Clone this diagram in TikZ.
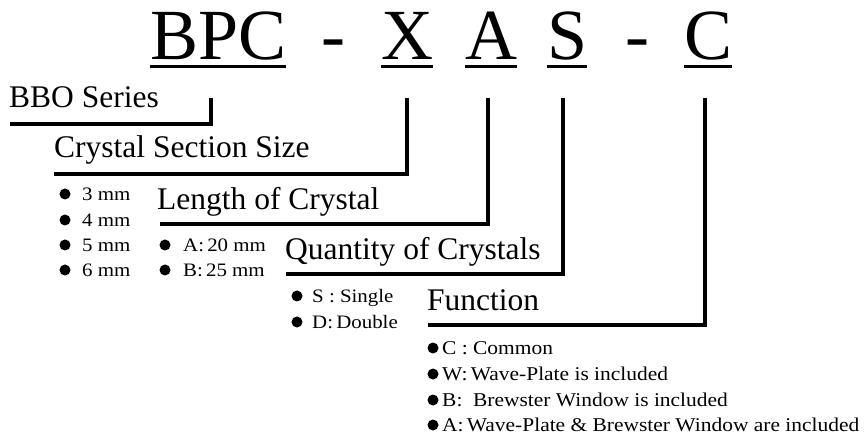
\documentclass[tikz,border=0pt]{standalone}
\usepackage{fontspec}
\setmainfont{Liberation Serif}
\newfontfamily\smallfont[FakeStretch=1.1]{Liberation Serif}
\begin{document}
\begin{tikzpicture}[x=1pt,y=-1pt,
  title/.style={anchor=base west,inner sep=0pt,font=\fontsize{72}{72}\selectfont},
  label/.style={anchor=base west,inner sep=0pt,font=\fontsize{31.5}{32}\selectfont},
  item/.style={anchor=base west,inner sep=0pt,font=\smallfont\fontsize{19}{20}\selectfont},
  fitem/.style={anchor=base west,inner sep=0pt,font=\smallfont\fontsize{19.5}{20}\selectfont},
  conn/.style={line width=3.5pt,line join=miter},
  uline/.style={line width=3pt},
  dot/.style={circle,fill=black,inner sep=0pt,minimum size=11pt}]
\useasboundingbox (0,0) rectangle (864,435);
% title
\node[title] (bpc) at (150,60) {BPC};
\node[title] (d1) at (321,60) {-};
\node[title] (x) at (381,60) {X};
\node[title] (a) at (465,60) {A};
\node[title] (s) at (547,60) {S};
\node[title] (d2) at (625,60) {-};
\node[title] (c) at (684,60) {C};
\foreach \n in {bpc,x,a,s,c}
  \draw[uline] ([yshift=-7pt]\n.base west) -- ([yshift=-7pt]\n.base east);
% labels
\node[label] (bbo) at (9,108) {BBO Series};
\node[label] (css) at (54,158) {Crystal Section Size};
\node[label] (len) at (157,210) {Length of Crystal};
\node[label] (qty) at (285,260) {Quantity of Crystals};
\node[label] (fun) at (427,311) {Function};
% connectors
\coordinate (t1) at (211,98); \coordinate (e1) at (10,124);
\coordinate (t2) at (407,98); \coordinate (e2) at (54,174);
\coordinate (t3) at (488,98); \coordinate (e3) at (160,224);
\coordinate (t4) at (563,98); \coordinate (e4) at (286,274);
\coordinate (t5) at (705,98); \coordinate (e5) at (428,325);
\foreach \i in {1,...,5} \draw[conn] (t\i) |- (e\i);
% section sizes
\node[dot] (b1) at (65,194) {};
\node[dot] (b2) at (65,220) {};
\node[dot] (b3) at (65,245) {};
\node[dot] (b4) at (65,270) {};
\node[item] (i1) at (82,201) {3 mm};
\node[item] (i2) at (82,227) {4 mm};
\node[item] (i3) at (82,252) {5 mm};
\node[item] (i4) at (82,277) {6 mm};
% lengths
\node[dot] (b5) at (165,245) {};
\node[dot] (b6) at (165,270) {};
\node[item] (i5) at (183,252) {A:\,20 mm};
\node[item] (i6) at (183,277) {B:\,25 mm};
% quantity
\node[dot] (b7) at (297,296) {};
\node[dot] (b8) at (297,322) {};
\node[item] (i7) at (312,302) {S : Single};
\node[item] (i8) at (312,328) {D:\,Double};
% function
\node[dot] (b9) at (433,348) {};
\node[dot] (b10) at (433,374) {};
\node[dot] (b11) at (433,400) {};
\node[dot] (b12) at (433,425) {};
\node[fitem] (f1) at (442,354) {C : Common};
\node[fitem] (f2) at (442,380) {W:\,Wave-Plate is included};
\node[fitem] (f3) at (442,406) {B:\ \ Brewster Window is included};
\node[fitem] (f4) at (442,431) {A:\,Wave-Plate \& Brewster Window are included};
\end{tikzpicture}
\end{document}
